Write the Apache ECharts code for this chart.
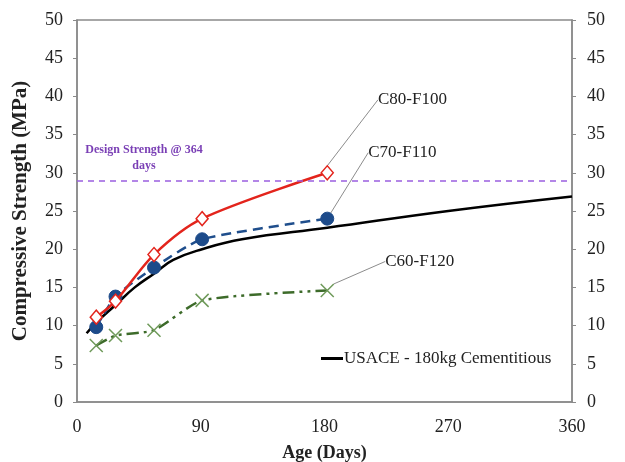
<!DOCTYPE html>
<html>
<head>
<meta charset="utf-8">
<script src="https://cdn.jsdelivr.net/npm/echarts@6/dist/echarts.min.js"></script>
<style>html,body{margin:0;padding:0;background:#fff;}#chart{width:625px;height:462px;}</style>
</head>
<body>
<div id="chart"></div>
<script>
const ages = [14, 28, 56, 91, 182];
const c80 = [11.1, 13.2, 19.3, 24.0, 30.0];
const c70 = [9.8, 13.8, 17.6, 21.3, 24.0];
const c60 = [7.4, 8.7, 9.4, 13.3, 14.6];
const usaceAges = [7, 14, 28, 42, 56, 70, 91, 120, 182, 270, 360];
const usace = [9.0, 10.4, 12.7, 15.0, 16.8, 18.6, 20.0, 21.3, 22.8, 25.0, 26.9];
const designStrength = 29;
const xTicks = [0, 90, 180, 270, 360];
const yTicks = [0, 5, 10, 15, 20, 25, 30, 35, 40, 45, 50];
const seriesNames = ['C80-F100', 'C70-F110', 'C60-F120', 'USACE - 180kg Cementitious'];

const FONT = '"Liberation Serif", "Times New Roman", serif';

function pairs(xs, ys, lastLabel) {
  return xs.map((x, i) => {
    const d = { value: [x, ys[i]] };
    if (lastLabel && i === xs.length - 1) {
      d.label = { show: true };
      d.labelLine = { show: true };
    }
    return d;
  });
}

const labelBase = {
  position: 'right',
  distance: 5,
  fontFamily: FONT,
  fontSize: 17,
  color: '#222',
  formatter: p => p.seriesName
};
const leader = { show: false, lineStyle: { color: '#8c8c8c', width: 1 } };

const chart = echarts.init(document.getElementById('chart'), null, { renderer: 'canvas' });
chart.setOption({
  animation: false,
  backgroundColor: '#fff',
  grid: { left: 77, right: 53, top: 20, bottom: 60, containLabel: false, outerBoundsMode: 'none',
    show: true, borderColor: '#8a8a8a', borderWidth: 1.5, backgroundColor: 'transparent' },
  legend: {
    data: [seriesNames[3]],
    left: 316, top: 345,
    icon: 'rect', itemWidth: 22, itemHeight: 3, itemGap: 4,
    textStyle: { fontFamily: FONT, fontSize: 17, color: '#222', padding: [0, 0, 0, -4] }
  },
  xAxis: {
    type: 'value', min: 0, max: 360, interval: 90,
    name: 'Age (Days)', nameLocation: 'middle', nameGap: 42,
    nameTextStyle: { fontFamily: FONT, fontSize: 18, fontWeight: 'bold', color: '#222' },
    axisLine: { show: true, lineStyle: { color: '#8a8a8a', width: 1.5 } },
    axisTick: { show: false },
    splitLine: { show: false },
    axisLabel: { fontFamily: FONT, fontSize: 18, color: '#222', margin: 16,
      formatter: v => xTicks.includes(v) ? String(v) : '' }
  },
  yAxis: [
    {
      type: 'value', min: 0, max: 50, interval: 5, position: 'left',
      name: 'Compressive Strength (MPa)', nameLocation: 'middle', nameGap: 46,
      nameTextStyle: { fontFamily: FONT, fontSize: 21, fontWeight: 'bold', color: '#222' },
      axisLine: { show: true, lineStyle: { color: '#8a8a8a', width: 1.5 } },
      axisTick: { show: true, length: 4, lineStyle: { color: '#8a8a8a' } },
      splitLine: { show: false },
      axisLabel: { fontFamily: FONT, fontSize: 18, color: '#222', margin: 14,
        formatter: v => yTicks.includes(v) ? String(v) : '' }
    },
    {
      type: 'value', min: 0, max: 50, interval: 5, position: 'right',
      axisLine: { show: true, lineStyle: { color: '#8a8a8a', width: 1.5 } },
      axisTick: { show: true, length: 4, lineStyle: { color: '#8a8a8a' } },
      splitLine: { show: false },
      axisLabel: { fontFamily: FONT, fontSize: 18, color: '#222', margin: 15,
        formatter: v => yTicks.includes(v) ? String(v) : '' }
    }
  ],
  graphic: [
    {
      type: 'text', x: 144, y: 142, z: 10,
      style: { text: 'Design Strength @ 364\ndays', fill: '#7a3fb5', font: 'bold 12px ' + FONT, lineHeight: 16, align: 'center' }
    }
  ],
  series: [
    {
      name: seriesNames[3], type: 'line', smooth: 0.45, showSymbol: false, z: 2,
      data: pairs(usaceAges, usace, false),
      lineStyle: { color: '#000', width: 2.5 }, itemStyle: { color: '#000' },
      markLine: {
        silent: true, symbol: 'none', label: { show: false },
        lineStyle: { color: '#9a5fe0', type: [6, 5], width: 1.5 },
        data: [{ yAxis: designStrength }]
      }
    },
    {
      name: seriesNames[0], type: 'line', smooth: 0.3, z: 4,
      data: pairs(ages, c80, true),
      symbol: 'diamond', symbolSize: [12, 14],
      lineStyle: { color: '#e3241c', width: 2.5 },
      itemStyle: { color: '#fff', borderColor: '#e3241c', borderWidth: 1.5 },
      label: labelBase, labelLine: leader,
      labelLayout: { dx: 39, dy: -73 }
    },
    {
      name: seriesNames[1], type: 'line', smooth: 0.2, z: 3,
      data: pairs(ages, c70, true),
      symbol: 'circle', symbolSize: 13,
      lineStyle: { color: '#1f4e8c', width: 2.5, type: [10, 6] },
      itemStyle: { color: '#1d4b8a', borderColor: '#1d4b8a' },
      label: labelBase, labelLine: leader,
      labelLayout: { dx: 29, dy: -66 }
    },
    {
      name: seriesNames[2], type: 'line', smooth: 0.2, z: 3,
      data: pairs(ages, c60, true),
      symbol: 'path://M0,0L10,10M10,0L0,10M0,0L0,0', symbolSize: 13,
      lineStyle: { color: '#3d6b2a', width: 2.5, type: [12, 5, 3, 5, 3, 5] },
      itemStyle: { color: 'none', borderColor: '#6f9a5a', borderWidth: 1.5 },
      label: labelBase, labelLine: leader,
      labelLayout: { dx: 44, dy: -29 }
    }
  ]
});
</script>
</body>
</html>
